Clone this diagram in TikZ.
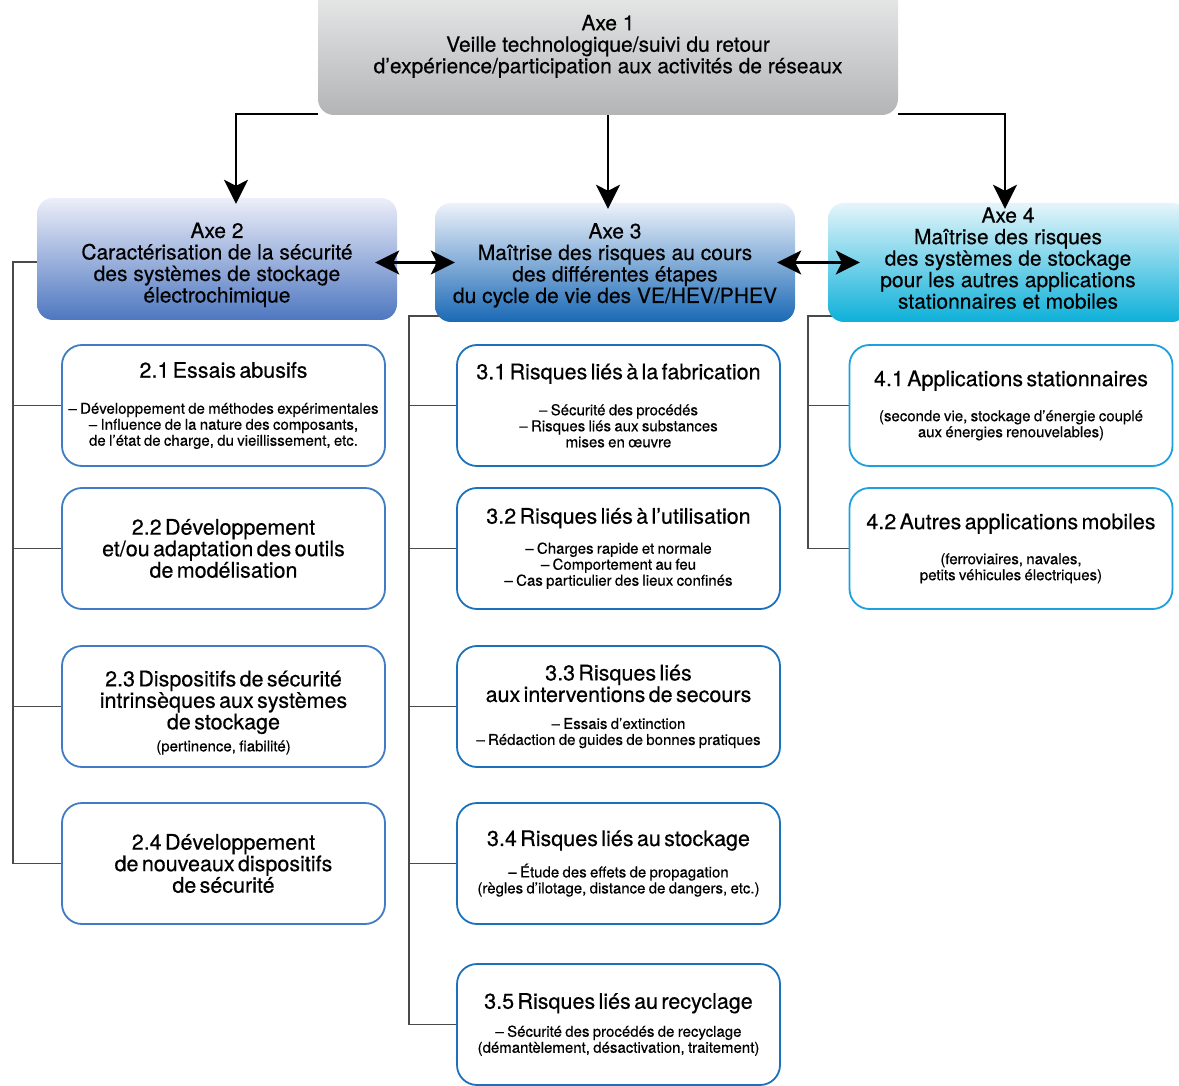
\documentclass[tikz,border=0pt]{standalone}
\usepackage{fontspec}
\setmainfont{TeX Gyre Heros}[FakeBold=0.4]
\usetikzlibrary{arrows.meta}
\pgfdeclarelayer{back}
\pgfsetlayers{back,main}
\definecolor{axeonetop}{HTML}{F0F0F0}
\definecolor{axeonebot}{HTML}{B2B4B6}
\definecolor{axetwotop}{HTML}{ECEEF9}
\definecolor{axetwobot}{HTML}{4E77C0}
\definecolor{axethreetop}{HTML}{EDF2FA}
\definecolor{axethreebot}{HTML}{1A69B6}
\definecolor{axefourtop}{HTML}{E4F5FA}
\definecolor{axefourbot}{HTML}{0DB0D9}
\definecolor{coltwo}{HTML}{3F7CC4}
\definecolor{colthree}{HTML}{1A72BD}
\definecolor{colfour}{HTML}{1DA0DD}
\definecolor{treegray}{HTML}{4A4A4A}
\newcommand{\boxtitle}[1]{{\fontsize{21.5}{21.5}\selectfont #1\par}}
\newcommand{\boxnote}[2][16pt]{\vspace{#1}{\fontsize{15}{16}\selectfont #2\par}}

\begin{document}
\begin{tikzpicture}[x=1pt,y=-1pt]
		\tikzstyle{axe} = [rounded corners=16pt, minimum width=360pt, minimum height=120pt, inner sep=0pt, align=center, font=\fontsize{21}{21.5}\selectfont]
		\tikzstyle{sub box} = [draw, line width=1.8pt, rounded corners=20pt, fill=white, text width=316pt, inner xsep=3.5pt, inner ysep=0pt, minimum height=121pt, align=center]
		\tikzstyle{tree line} = [line width=1.2pt, draw=treegray]
		\tikzstyle{big arrow} = [line width=2.6pt, -{Stealth[length=24pt,width=24pt,inset=6pt]}]
		\tikzstyle{both arrow} = [line width=2.6pt, {Stealth[length=24pt,width=24pt,inset=6pt]}-{Stealth[length=24pt,width=24pt,inset=6pt]}]

		\useasboundingbox (0,0) rectangle (1179,1086);

		\node[axe, minimum width=580pt, minimum height=142pt, top color=axeonetop, bottom color=axeonebot] (axe1) at (608,44) {\rule{0pt}{20pt}Axe 1\\Veille technologique/suivi du retour\\d’expérience/participation aux activités de réseaux};
		\node[axe, minimum height=122pt, top color=axetwotop, bottom color=axetwobot] (axe2) at (217,259) {\rule{0pt}{27pt}Axe 2\\Caractérisation de la sécurité\\des systèmes de stockage\\électrochimique};
		\node[axe, minimum height=119pt, top color=axethreetop, bottom color=axethreebot] (axe3) at (615,262.5) {\rule{0pt}{21pt}Axe 3\\Maîtrise des risques au cours\\des différentes étapes\\du cycle de vie des VE/HEV/PHEV};
		\node[axe, minimum height=119pt, top color=axefourtop, bottom color=axefourbot] (axe4) at (1008,262.5) {Axe 4\\Maîtrise des risques\\des systèmes de stockage\\pour les autres applications\\stationnaires et mobiles\rule[-9pt]{0pt}{9pt}};

		\node[sub box, draw=coltwo] (b21) at (223.5,405.5) {\boxtitle{2.1 Essais abusifs}\boxnote[20pt]{– Développement de méthodes expérimentales\\– Influence de la nature des composants,\\de l’état de charge, du vieillissement, etc.}};
		\node[sub box, draw=coltwo] (b22) at (223.5,548.5) {\boxtitle{2.2 Développement\\et/ou adaptation des outils\\de modélisation}};
		\node[sub box, draw=coltwo] (b23) at (223.5,706.5) {\boxtitle{\rule{0pt}{28pt}2.3 Dispositifs de sécurité\\intrinsèques aux systèmes\\de stockage}\boxnote[6pt]{(pertinence, fiabilité)}};
		\node[sub box, draw=coltwo] (b24) at (223.5,863.5) {\boxtitle{2.4 Développement\\de nouveaux dispositifs\\de sécurité}};

		\node[sub box, draw=colthree] (b31) at (618.5,405.5) {\boxtitle{3.1 Risques liés à la fabrication}\boxnote[20pt]{– Sécurité des procédés\\– Risques liés aux substances\\mises en œuvre}};
		\node[sub box, draw=colthree] (b32) at (618.5,548.5) {\boxtitle{3.2 Risques liés à l’utilisation}\boxnote[14pt]{– Charges rapide et normale\\– Comportement au feu\\– Cas particulier des lieux confinés}};
		\node[sub box, draw=colthree] (b33) at (618.5,706.5) {\boxtitle{3.3 Risques liés\\aux interventions de secours}\boxnote[11pt]{– Essais d’extinction\\– Rédaction de guides de bonnes pratiques}};
		\node[sub box, draw=colthree] (b34) at (618.5,863.5) {\boxtitle{3.4 Risques liés au stockage}\boxnote[12pt]{– Étude des effets de propagation\\(règles d’ilotage, distance de dangers, etc.)}};
		\node[sub box, draw=colthree] (b35) at (618.5,1024.5) {\boxtitle{3.5 Risques liés au recyclage}\boxnote[12pt]{– Sécurité des procédés de recyclage\\(démantèlement, désactivation, traitement)}};

		\node[sub box, draw=colfour] (b41) at (1011,405.5) {\boxtitle{4.1 Applications stationnaires}\boxnote[19pt]{(seconde vie, stockage d’énergie couplé\\aux énergies renouvelables)}};
		\node[sub box, draw=colfour] (b42) at (1011,548.5) {\boxtitle{4.2 Autres applications mobiles}\boxnote[19pt]{(ferroviaires, navales,\\petits véhicules électriques)}};

		\coordinate (t2) at (13,262);
		\coordinate (t3) at (409,316);
		\coordinate (t4) at (808,316);

		\begin{pgfonlayer}{back}
			\draw[tree line] (axe2.west |- t2) -- (t2) |- (b24.west);
			\foreach \b in {b21,b22,b23}
				\draw[tree line] (\b.west) -- (\b.west -| t2);
			\draw[tree line] (t3 -| axe3.south) -- (t3) |- (b35.west);
			\foreach \b in {b31,b32,b33,b34}
				\draw[tree line] (\b.west) -- (\b.west -| t3);
			\draw[tree line] (t4 -| axe4.south) -- (t4) |- (b42.west);
			\draw[tree line] (b41.west) -- (b41.west -| t4);
		\end{pgfonlayer}

		\draw[big arrow] ([yshift=1pt]axe1.south west) -| ([xshift=19pt,yshift=-6pt]axe2.north);
		\draw[big arrow] (axe1.south) -- ([yshift=-6pt]axe1.south |- axe3.north);
		\draw[big arrow] ([yshift=1pt]axe1.south east) -| ([xshift=-3pt,yshift=-6pt]axe4.north);

		\draw[both arrow] ([xshift=-22pt]axe2.east |- axe3.west) -- ([xshift=20pt]axe3.west);
		\draw[both arrow] ([xshift=-18pt]axe3.east) -- ([xshift=32pt]axe4.west);
	\end{tikzpicture}
\end{document}
